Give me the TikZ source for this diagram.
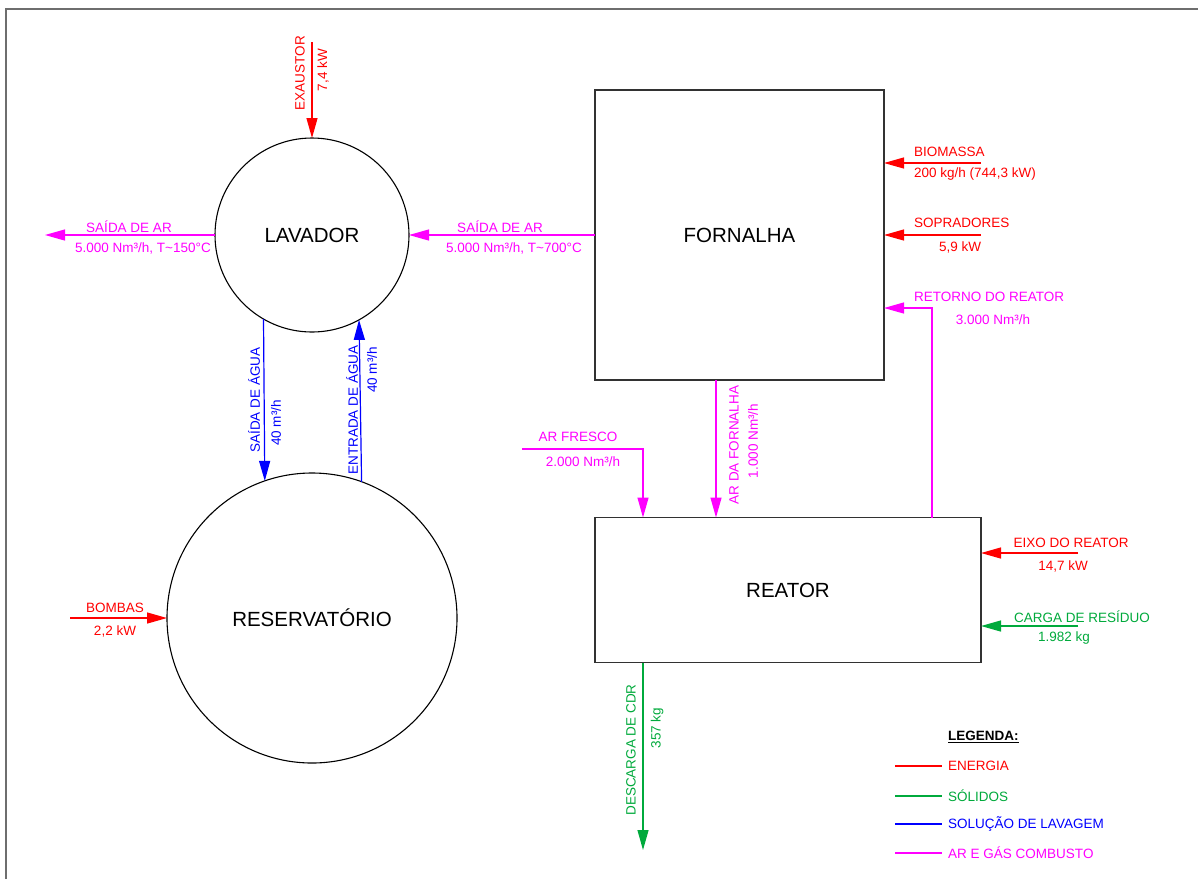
\documentclass[tikz,border=0pt]{standalone}
\usepackage{fontspec}
\setmainfont{Liberation Sans}
\usetikzlibrary{arrows.meta,calc}
\definecolor{cred}{RGB}{255,0,0}
\definecolor{cmag}{RGB}{255,0,255}
\definecolor{cblue}{RGB}{0,0,255}
\definecolor{cgreen}{RGB}{0,170,60}
\definecolor{cframe}{RGB}{110,110,110}
\definecolor{cbox}{RGB}{50,50,50}
\tikzset{
  flow/.style={line width=1.2pt,-{Triangle[length=20pt,width=11pt]}},
  plain/.style={line width=1.2pt},
  lbl/.style={inner sep=0pt,font=\fontsize{13.5}{15}\selectfont},
  vlbl/.style={lbl,rotate=90},
  unitc/.style={draw=black,line width=1.1pt,circle,inner sep=0pt,outer sep=0pt,font=\fontsize{20.5}{24}\selectfont},
  unitr/.style={draw=cbox,line width=1.5pt,rectangle,inner sep=0pt,outer sep=0pt,font=\fontsize{20.5}{24}\selectfont},
}
\begin{document}
\begin{tikzpicture}[x=1pt,y=-1pt]
\useasboundingbox[fill=white] (0,0) rectangle (1198,879);
% frame
\coordinate (fbl) at (6,879);
\coordinate (ftl) at (6,9);
\coordinate (ftr) at (1198,9);
\draw[cframe,line width=2pt] (fbl) -- (ftl) -- (ftr);

% units
\node[unitc,minimum size=194pt] (lav) at (312,235) {LAVADOR};
\node[unitc,minimum size=290pt] (res) at (312,618) {RESERVATÓRIO};
\node[unitr,minimum width=289pt,minimum height=290pt] (forn) at (739.5,235) {FORNALHA};
\node[unitr,minimum width=386pt,minimum height=145pt] (reat) at (788,590) {REATOR};

% coordinates of free ends
\coordinate (exs) at (312,42);
\coordinate (arout) at (45,235);
\coordinate (bio) at (981,163);
\coordinate (sop) at (981,235);
\coordinate (ret) at (932,308);
\coordinate (af) at (522,449);
\coordinate (afc) at (643,449);
\coordinate (adf) at (716,440);
\coordinate (eixo) at (1078,553);
\coordinate (carga) at (1078,626);
\coordinate (desc) at (643,850);
\coordinate (bom) at (70,618);

% energy (red)
\draw[flow,cred] (exs) -- (lav.north);
\draw[flow,cred] (bio) -- (bio -| forn.east);
\draw[flow,cred] (sop) -- (sop -| forn.east);
\draw[flow,cred] (eixo) -- (eixo -| reat.east);
\draw[flow,cred] (bom) -- (res.west);

% air (magenta)
\draw[flow,cmag] (lav.west) -- (arout);
\draw[flow,cmag] (forn.west) -- (lav.east);
\draw[flow,cmag] (reat.north -| ret) -- (ret) -- (ret -| forn.east);
\draw[flow,cmag] (af) -- (afc) -- (afc |- reat.north);
\draw[flow,cmag] (forn.south -| adf) -- (adf |- reat.north);

% water (blue)
\draw[flow,cblue] (lav.240.3) -- (res.109.3);
\draw[flow,cblue] (res.70.3) -- (lav.299.7);

% solids (green)
\draw[flow,cgreen] (carga) -- (carga -| reat.east);
\draw[flow,cgreen] (reat.south -| desc) -- (desc);

% labels
\node[vlbl,cred] (l1) at (300,73) {EXAUSTOR};
\node[vlbl,cred] (l2) at (323,70) {7,4 kW};
\node[lbl,cmag] (l3) at (129,227) {SAÍDA DE AR};
\node[lbl,cmag] (l4) at (143,248) {5.000 Nm³/h, T\textasciitilde150°C};
\node[lbl,cmag] (l5) at (500,227) {SAÍDA DE AR};
\node[lbl,cmag] (l6) at (514,248) {5.000 Nm³/h, T\textasciitilde700°C};
\node[lbl,cred,anchor=west] (l7) at (914,152) {BIOMASSA};
\node[lbl,cred,anchor=west] (l8) at (914,174) {200 kg/h (744,3 kW)};
\node[lbl,cred,anchor=west] (l9) at (914,223) {SOPRADORES};
\node[lbl,cred] (l10) at (960,247) {5,9 kW};
\node[lbl,cmag,anchor=west] (l11) at (914,297) {RETORNO DO REATOR};
\node[lbl,cmag] (l12) at (993,320) {3.000 Nm³/h};
\node[vlbl,cblue] (l13) at (254,400) {SAÍDA DE ÁGUA};
\node[vlbl,cblue] (l14) at (276,423) {40 m³/h};
\node[vlbl,cblue] (l15) at (352,410) {ENTRADA DE ÁGUA};
\node[vlbl,cblue] (l16) at (372,370) {40 m³/h};
\node[lbl,cmag] (l17) at (578,437) {AR FRESCO};
\node[lbl,cmag] (l18) at (583,462) {2.000 Nm³/h};
\node[vlbl,cmag] (l19) at (734,445) {AR DA FORNALHA};
\node[vlbl,cmag] (l20) at (753,441) {1.000 Nm³/h};
\node[lbl,cred] (l21) at (1071,543) {EIXO DO REATOR};
\node[lbl,cred] (l22) at (1063,566) {14,7 kW};
\node[lbl,cgreen] (l23) at (1082,617) {CARGA DE RESÍDUO};
\node[lbl,cgreen] (l24) at (1064,638) {1.982 kg};
\node[vlbl,cgreen] (l25) at (631,750) {DESCARGA DE CDR};
\node[vlbl,cgreen] (l26) at (657,728) {357 kg};
\node[lbl,cred] (l27) at (115,608) {BOMBAS};
\node[lbl,cred] (l28) at (115,631) {2,2 kW};

% legend
\node[lbl,anchor=west,font=\fontsize{13.5}{15}\selectfont\bfseries] (leg) at (948,737) {\underline{LEGENDA:}};
\coordinate (lg1a) at (895,766); \coordinate (lg1b) at (942,766);
\coordinate (lg2a) at (895,796); \coordinate (lg2b) at (942,796);
\coordinate (lg3a) at (895,824); \coordinate (lg3b) at (942,824);
\coordinate (lg4a) at (895,853); \coordinate (lg4b) at (942,853);
\draw[plain,cred] (lg1a) -- (lg1b);
\draw[plain,cgreen] (lg2a) -- (lg2b);
\draw[plain,cblue] (lg3a) -- (lg3b);
\draw[plain,cmag] (lg4a) -- (lg4b);
\node[lbl,cred,anchor=west] (le1) at (948,766) {ENERGIA};
\node[lbl,cgreen,anchor=west] (le2) at (948,796) {SÓLIDOS};
\node[lbl,cblue,anchor=west] (le3) at (948,824) {SOLUÇÃO DE LAVAGEM};
\node[lbl,cmag,anchor=west] (le4) at (948,853) {AR E GÁS COMBUSTO};
\end{tikzpicture}
\end{document}
